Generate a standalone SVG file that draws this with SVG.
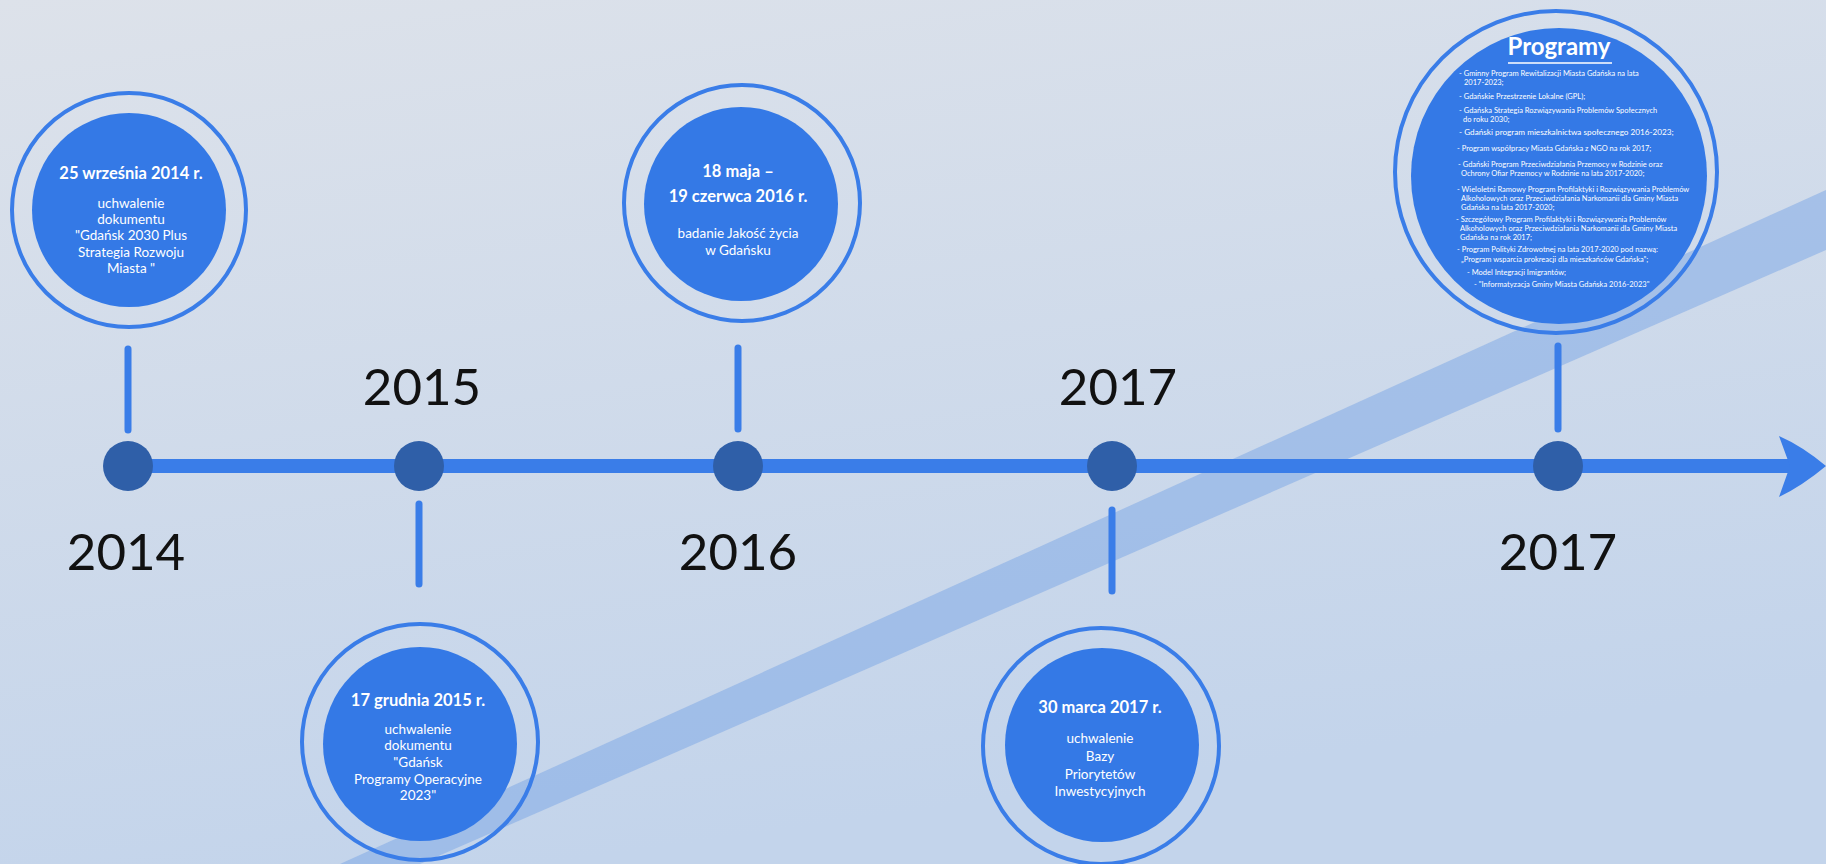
<svg xmlns="http://www.w3.org/2000/svg" width="1826" height="864" viewBox="0 0 1826 864">
<defs>
<linearGradient id="bg" x1="0" y1="0" x2="0.3" y2="1">
<stop offset="0" stop-color="#dde2ea"/>
<stop offset="1" stop-color="#c3d4eb"/>
</linearGradient>
<style>
.ring{fill:none;stroke:#3a7de8;stroke-width:4}
.disc{fill:#3479e6}
.dot{fill:#2f5fa8}
.stem{stroke:#3a7de8;stroke-width:7;stroke-linecap:round}
.year{font-family:Lato,"Open Sans",sans-serif;font-size:51px;fill:#111;text-anchor:middle}
.t{font-family:Lato,"Open Sans",sans-serif;font-weight:bold;font-size:16.5px;fill:#fff;text-anchor:middle}
.b{font-family:Lato,"Open Sans",sans-serif;font-size:13.5px;fill:#fff;text-anchor:middle}
.s{font-family:Lato,"Open Sans",sans-serif;font-size:7.5px;fill:#fff}
</style>
</defs>
<rect width="1826" height="864" fill="url(#bg)"/>
<polygon points="1826,190 1826,250 420,864 340,864" fill="#7aa6e6" opacity="0.5"/>

<g id="connectors">
<line x1="128" y1="466" x2="1790" y2="466" stroke="#3a7de8" stroke-width="14"/>
<path d="M1779,436 Q1802,446 1826,466 Q1802,486 1779,497 L1790,466 Z" fill="#3a7de8"/>
<line class="stem" x1="128" y1="349" x2="128" y2="430"/>
<line class="stem" x1="419" y1="504" x2="419" y2="584"/>
<line class="stem" x1="738" y1="348" x2="738" y2="429"/>
<line class="stem" x1="1112" y1="510" x2="1112" y2="591"/>
<line class="stem" x1="1558" y1="346" x2="1558" y2="429"/>
</g>

<g id="dots">
<circle class="dot" cx="128" cy="466" r="25"/>
<circle class="dot" cx="419" cy="466" r="25"/>
<circle class="dot" cx="738" cy="466" r="25"/>
<circle class="dot" cx="1112" cy="466" r="25"/>
<circle class="dot" cx="1558" cy="466" r="25"/>
</g>

<g id="years">
<text class="year" x="126" y="570">2014</text>
<text class="year" x="422" y="405">2015</text>
<text class="year" x="738" y="570">2016</text>
<text class="year" x="1118" y="405">2017</text>
<text class="year" x="1558" y="570">2017</text>
</g>

<g id="node-2014">
<circle class="ring" cx="129" cy="210" r="117"/>
<circle class="disc" cx="129" cy="210" r="97"/>
<text class="t" x="131" y="179">25 września 2014 r.</text>
<text class="b" x="131" y="208">uchwalenie</text>
<text class="b" x="131" y="224">dokumentu</text>
<text class="b" x="131" y="240">"Gdańsk 2030 Plus</text>
<text class="b" x="131" y="257">Strategia Rozwoju</text>
<text class="b" x="131" y="273">Miasta "</text>
</g>

<g id="node-2015">
<circle class="ring" cx="420" cy="742" r="118"/>
<circle class="disc" cx="420" cy="744" r="97"/>
<text class="t" x="418" y="706">17 grudnia 2015 r.</text>
<text class="b" x="418" y="734">uchwalenie</text>
<text class="b" x="418" y="750">dokumentu</text>
<text class="b" x="418" y="767">"Gdańsk</text>
<text class="b" x="418" y="784">Programy Operacyjne</text>
<text class="b" x="418" y="800">2023"</text>
</g>

<g id="node-2016">
<circle class="ring" cx="742" cy="203" r="118"/>
<circle class="disc" cx="741" cy="204" r="97"/>
<text class="t" x="738" y="177">18 maja –</text>
<text class="t" x="738" y="202">19 czerwca 2016 r.</text>
<text class="b" x="738" y="238">badanie Jakość życia</text>
<text class="b" x="738" y="255">w Gdańsku</text>
</g>

<g id="node-2017a">
<circle class="ring" cx="1101" cy="746" r="118"/>
<circle class="disc" cx="1102" cy="745" r="97"/>
<text class="t" x="1100" y="713">30 marca 2017 r.</text>
<text class="b" x="1100" y="743">uchwalenie</text>
<text class="b" x="1100" y="761">Bazy</text>
<text class="b" x="1100" y="779">Priorytetów</text>
<text class="b" x="1100" y="796">Inwestycyjnych</text>
</g>

<g id="node-2017b">
<circle class="ring" cx="1556" cy="172" r="161"/>
<circle class="disc" cx="1559" cy="176" r="148"/>
<text x="1559" y="55" style="font-family:Lato,'Open Sans',sans-serif;font-size:24px;font-weight:bold;fill:#fff;text-anchor:middle">Programy</text>
<line x1="1508" y1="63" x2="1612" y2="63" stroke="#fff" stroke-width="1.5"/>
<text class="s" x="1459" y="76">- Gminny Program Rewitalizacji Miasta Gdańska na lata</text>
<text class="s" x="1464" y="85">2017-2023;</text>
<text class="s" x="1459" y="99">- Gdańskie Przestrzenie Lokalne (GPL);</text>
<text class="s" x="1459" y="113">- Gdańska Strategia Rozwiązywania Problemów Społecznych</text>
<text class="s" x="1463" y="122">do roku 2030;</text>
<text class="s" x="1459" y="135" style="font-size:8.2px">- Gdański program mieszkalnictwa społecznego 2016-2023;</text>
<text class="s" x="1457" y="151">- Program współpracy Miasta Gdańska z NGO na rok 2017;</text>
<text class="s" x="1458" y="167">- Gdański Program Przeciwdziałania Przemocy w Rodzinie oraz</text>
<text class="s" x="1461" y="176">Ochrony Ofiar Przemocy w Rodzinie na lata 2017-2020;</text>
<text class="s" x="1457" y="192">- Wieloletni Ramowy Program Profilaktyki i Rozwiązywania Problemów</text>
<text class="s" x="1461" y="201">Alkoholowych oraz Przeciwdziałania Narkomanii dla Gminy Miasta</text>
<text class="s" x="1461" y="210">Gdańska na lata 2017-2020;</text>
<text class="s" x="1456" y="222">- Szczegółowy Program Profilaktyki i Rozwiązywania Problemów</text>
<text class="s" x="1460" y="231">Alkoholowych oraz Przeciwdziałania Narkomanii dla Gminy Miasta</text>
<text class="s" x="1460" y="240">Gdańska na rok 2017;</text>
<text class="s" x="1457" y="252">- Program Polityki Zdrowotnej na lata 2017-2020 pod nazwą:</text>
<text class="s" x="1461" y="262">„Program wsparcia prokreacji dla mieszkańców Gdańska”;</text>
<text class="s" x="1467" y="275">-  Model Integracji Imigrantów;</text>
<text class="s" x="1474" y="287">-  "Informatyzacja Gminy Miasta Gdańska 2016-2023"</text>
</g>
</svg>
